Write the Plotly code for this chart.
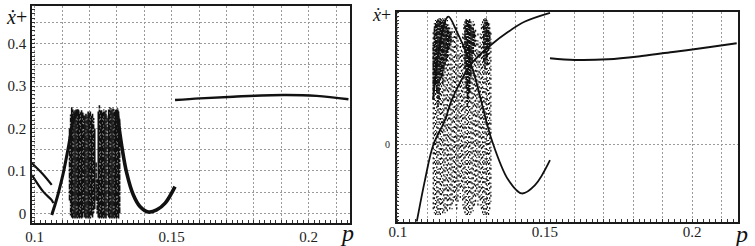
import plotly.graph_objects as go

# ---------------- data ----------------
# Left panel
L_START1_P = [0.0990, 0.1030, 0.1062]
L_START1_Y = [0.118, 0.092, 0.067]
L_START2_P = [0.0990, 0.1031, 0.1062, 0.1068]
L_START2_Y = [0.090, 0.051, 0.031, 0.024]
L_ARCH_P = [0.1062, 0.1074, 0.1086, 0.1104, 0.1123, 0.1141, 0.1159]
L_ARCH_Y = [-0.004, 0.020, 0.047, 0.094, 0.157, 0.220, 0.244]
L_BOWL_P = [0.1299, 0.1318, 0.1336, 0.1360, 0.1384, 0.1415, 0.1445, 0.1476, 0.1512]
L_BOWL_Y = [0.244, 0.157, 0.094, 0.043, 0.016, 0.003, 0.008, 0.024, 0.063]
L_HIGH_P = [0.1512, 0.1603, 0.1725, 0.1907, 0.2029, 0.2145]
L_HIGH_Y = [0.267, 0.271, 0.275, 0.279, 0.277, 0.269]

L_CHAOS_P = [0.1127, 0.1131, 0.1135, 0.1139, 0.1143, 0.1147, 0.1151, 0.1155, 0.1159,
             0.1163, 0.1167, 0.1171, 0.1175, 0.1179, 0.1183, 0.1187, 0.1191, 0.1195,
             0.1199, 0.1203, 0.1207, 0.1211, 0.1215, 0.1219, 0.1224, 0.1228, 0.1232,
             0.1236, 0.1240, 0.1244, 0.1248, 0.1252, 0.1256, 0.1260, 0.1264, 0.1270,
             0.1274, 0.1278, 0.1282, 0.1286, 0.1290, 0.1294, 0.1298, 0.1302, 0.1306,
             0.1310]
L_CHAOS_LO = [0.030, -0.005, -0.010, -0.012, -0.010, -0.012, -0.010, -0.012, -0.010,
              -0.012, -0.010, -0.012, -0.010, 0.000, -0.010, -0.012, -0.010, -0.012,
              -0.010, -0.012, -0.005, -0.010, 0.000, 0.010, 0.030, 0.000, -0.010,
              -0.012, -0.010, -0.012, -0.010, -0.012, -0.010, -0.012, -0.005, -0.010,
              -0.012, -0.010, -0.012, -0.010, -0.012, -0.010, -0.012, -0.010, -0.012,
              0.000]
L_CHAOS_HI = [0.200, 0.235, 0.250, 0.245, 0.240, 0.243, 0.245, 0.240, 0.245,
              0.240, 0.238, 0.243, 0.240, 0.235, 0.230, 0.235, 0.232, 0.240,
              0.236, 0.240, 0.230, 0.235, 0.225, 0.200, 0.120, 0.080, 0.240,
              0.255, 0.245, 0.243, 0.240, 0.245, 0.240, 0.243, 0.230, 0.245,
              0.250, 0.248, 0.245, 0.250, 0.245, 0.240, 0.245, 0.248, 0.240,
              0.225]

# Right panel
R_RISE_P = [0.1064, 0.1092, 0.1120, 0.1160, 0.1183, 0.1251, 0.1319, 0.1375, 0.1432, 0.1517]
R_RISE_Y = [-0.2026, -0.092, 0.000, 0.066, 0.119, 0.216, 0.266, 0.299, 0.326, 0.349]
R_FALL_P = [0.1120, 0.1143, 0.1171, 0.1200, 0.1251, 0.1319, 0.1375, 0.1421, 0.1466, 0.1517]
R_FALL_Y = [0.119, 0.270, 0.339, 0.300, 0.207, 0.013, -0.092, -0.128, -0.106, -0.040]
R_HIGH_P = [0.1517, 0.1602, 0.1715, 0.1829, 0.1942, 0.2056, 0.2152]
R_HIGH_Y = [0.229, 0.2245, 0.2263, 0.235, 0.2464, 0.258, 0.2686]

R_CHAOS_P = [0.1120, 0.1124, 0.1128, 0.1132, 0.1136, 0.1140, 0.1144, 0.1148, 0.1152,
             0.1156, 0.1160, 0.1164, 0.1168, 0.1172, 0.1176, 0.1180, 0.1184, 0.1188,
             0.1192, 0.1196, 0.1200, 0.1204, 0.1208, 0.1212, 0.1216, 0.1220, 0.1224,
             0.1228, 0.1232, 0.1236, 0.1240, 0.1244, 0.1248, 0.1252, 0.1256, 0.1260,
             0.1264, 0.1268, 0.1272, 0.1276, 0.1280, 0.1284, 0.1288, 0.1292, 0.1296,
             0.1300, 0.1304, 0.1308, 0.1312, 0.1316]
R_CHAOS_LO = [-0.170, -0.180, -0.185, -0.180, -0.185, -0.180, -0.185, -0.170, -0.180,
              -0.175, -0.180, -0.170, -0.175, -0.160, -0.170, -0.160, -0.170, -0.150,
              -0.140, -0.160, -0.170, -0.150, -0.120, -0.140, -0.110, -0.160, -0.170,
              -0.180, -0.185, -0.185, -0.180, -0.185, -0.180, -0.170, -0.175, -0.160,
              -0.150, -0.130, -0.160, -0.140, -0.160, -0.170, -0.180, -0.185, -0.180,
              -0.185, -0.180, -0.185, -0.170, -0.150]
R_CHAOS_HI = [0.300, 0.330, 0.335, 0.335, 0.334, 0.335, 0.335, 0.334, 0.335,
              0.334, 0.335, 0.330, 0.330, 0.320, 0.310, 0.300, 0.320, 0.300,
              0.310, 0.300, 0.320, 0.300, 0.250, 0.280, 0.260, 0.300, 0.320,
              0.330, 0.335, 0.335, 0.335, 0.334, 0.330, 0.320, 0.330, 0.320,
              0.310, 0.280, 0.300, 0.270, 0.300, 0.320, 0.330, 0.335, 0.335,
              0.334, 0.330, 0.325, 0.320, 0.300]
R_DENSE_LO = [0.12, 0.15, 0.16, 0.14, 0.10, 0.12, 0.17, 0.18, 0.16,
              0.20, 0.21, 0.22, 0.23, 0.25, 0.26, 0.27, None, None,
              None, None, None, None, None, None, None, None, None,
              0.20, 0.15, 0.10, 0.12, 0.14, 0.18, 0.22, 0.24, 0.26,
              None, None, None, None, None, None, None, 0.22, 0.20,
              0.23, 0.21, 0.25, 0.26, None]
R_DENSE_HI = [0.27, 0.31, 0.32, 0.33, 0.33, 0.33, 0.33, 0.33, 0.33,
              0.33, 0.33, 0.32, 0.31, 0.31, 0.30, 0.30, None, None,
              None, None, None, None, None, None, None, None, None,
              0.32, 0.33, 0.33, 0.33, 0.33, 0.32, 0.31, 0.31, 0.30,
              None, None, None, None, None, None, None, 0.32, 0.33,
              0.33, 0.33, 0.32, 0.30, None]

# axes ticks / grid
L_X_GRID = [0.10, 0.11, 0.12, 0.13, 0.14, 0.15, 0.16, 0.17, 0.18, 0.19, 0.20, 0.21]
L_X_TEXT = ['0.1', '', '', '', '', '0.15', '', '', '', '', '0.2', '']
L_Y_GRID = [0.0, 0.05, 0.1, 0.15, 0.2, 0.25, 0.3, 0.35, 0.4, 0.45]
L_Y_TEXT = ['0', '', '0.1', '', '0.2', '', '0.3', '', '0.4', '']
R_Y_GRID = [0.0]
R_Y_TEXT = ['0']


def segments(ps, los, his, pick):
    xs, ys = [], []
    for i, (p, lo, hi) in enumerate(zip(ps, los, his)):
        if lo is None or not pick(i):
            continue
        xs += [p, p, None]
        ys += [lo, hi, None]
    return xs, ys


fig = go.Figure()
BLACK = '#111111'

# ---- left panel ----
dashes_l = ['6px,1px,3px,1px', '2px,1px,5px,1px', 'solid']
for k, d in enumerate(dashes_l):
    xs, ys = segments(L_CHAOS_P, L_CHAOS_LO, L_CHAOS_HI, lambda i, k=k: i % 3 == k)
    fig.add_trace(go.Scatter(x=xs, y=ys, mode='lines', xaxis='x', yaxis='y',
                             line=dict(color=BLACK, width=1.6, dash=d),
                             showlegend=False, hoverinfo='skip'))
for px_, py_, w in [(L_START1_P, L_START1_Y, 2.2), (L_START2_P, L_START2_Y, 2.2),
                    (L_ARCH_P, L_ARCH_Y, 3.0), (L_BOWL_P, L_BOWL_Y, 3.6),
                    (L_HIGH_P, L_HIGH_Y, 2.4)]:
    fig.add_trace(go.Scatter(x=px_, y=py_, mode='lines', xaxis='x', yaxis='y',
                             line=dict(color=BLACK, width=w, shape='spline'),
                             showlegend=False, hoverinfo='skip'))

# ---- right panel ----
dashes_r = ['2px,3px', '1px,4px,2px,2px', '2px,2px,1px,5px']
for k, d in enumerate(dashes_r):
    xs, ys = segments(R_CHAOS_P, R_CHAOS_LO, R_CHAOS_HI, lambda i, k=k: i % 3 == k)
    fig.add_trace(go.Scatter(x=xs, y=ys, mode='lines', xaxis='x2', yaxis='y2',
                             line=dict(color=BLACK, width=1.3, dash=d),
                             showlegend=False, hoverinfo='skip'))
xs, ys = segments(R_CHAOS_P, R_DENSE_LO, R_DENSE_HI, lambda i: True)
fig.add_trace(go.Scatter(x=xs, y=ys, mode='lines', xaxis='x2', yaxis='y2',
                         line=dict(color=BLACK, width=1.6, dash='4px,1px,2px,1px'),
                         showlegend=False, hoverinfo='skip'))
for px_, py_, w in [(R_RISE_P, R_RISE_Y, 1.8), (R_FALL_P, R_FALL_Y, 1.8),
                    (R_HIGH_P, R_HIGH_Y, 2.0)]:
    fig.add_trace(go.Scatter(x=px_, y=py_, mode='lines', xaxis='x2', yaxis='y2',
                             line=dict(color=BLACK, width=w, shape='spline'),
                             showlegend=False, hoverinfo='skip'))

SERIF = "'Liberation Serif', 'Times New Roman', Times, 'DejaVu Serif', serif"
common = dict(showline=True, mirror=True, linecolor='#1a1a1a', linewidth=1.6,
              showgrid=True, gridcolor='#9a9a9a', gridwidth=1, griddash='2px,2px',
              zeroline=False, ticks='', tickmode='array',
              tickfont=dict(family=SERIF, size=15, color='#222'))

fig.update_layout(
    width=755, height=246, autosize=False,
    font=dict(family=SERIF),
    margin=dict(l=0, r=0, t=0, b=0, autoexpand=False),
    paper_bgcolor='white', plot_bgcolor='white',
    xaxis=dict(common, domain=[0.0424, 0.4636], range=[0.09901, 0.21507],
               tickvals=L_X_GRID, ticktext=L_X_TEXT, anchor='y',
               ticklabelstandoff=-1,
               minor=dict(ticks='inside', dtick=0.002, tick0=0.1, ticklen=3,
                          tickcolor='#333', showgrid=False)),
    yaxis=dict(common, domain=[0.0923, 0.9776], range=[-0.0236, 0.49],
               tickvals=L_Y_GRID, ticktext=L_Y_TEXT, anchor='x',
               ticklabelstandoff=1,
               minor=dict(ticks='inside', dtick=0.01, tick0=0, ticklen=3,
                          tickcolor='#333', showgrid=False)),
    xaxis2=dict(common, domain=[0.5254, 0.9779], range=[0.09956, 0.21575],
                tickvals=L_X_GRID, ticktext=L_X_TEXT, anchor='y2',
                ticklabelstandoff=-4,
                minor=dict(ticks='inside', dtick=0.002, tick0=0.1, ticklen=3,
                           tickcolor='#333', showgrid=False)),
    yaxis2=dict(common, domain=[0.0988, 0.9524], range=[-0.2026, 0.352],
                tickvals=R_Y_GRID, ticktext=R_Y_TEXT, anchor='x2',
                ticklabelstandoff=3,
                tickfont=dict(family=SERIF, size=10, color='#222'),
                minor=dict(ticks='inside', dtick=0.01, tick0=0, ticklen=3,
                           tickcolor='#333', showgrid=False)),
    annotations=[
        dict(text='<i>ẋ</i>+', xref='paper', yref='paper', x=4 / 755, y=1 - 4 / 246,
             xanchor='left', yanchor='top', showarrow=False,
             font=dict(family=SERIF, size=20, color='#111')),
        dict(text='<i>ẋ</i>+', xref='paper', yref='paper', x=370 / 755, y=1 - 3 / 246,
             xanchor='left', yanchor='top', showarrow=False,
             font=dict(family=SERIF, size=18, color='#111')),
        dict(text='<i>p</i>', xref='paper', yref='paper', x=347 / 755, y=1 - 233 / 246,
             xanchor='center', yanchor='middle', showarrow=False,
             font=dict(family=SERIF, size=24, color='#111')),
        dict(text='<i>p</i>', xref='paper', yref='paper', x=741 / 755, y=1 - 234 / 246,
             xanchor='center', yanchor='middle', showarrow=False,
             font=dict(family=SERIF, size=24, color='#111')),
    ],
)

fig.write_html('out.html',
               config={'displayModeBar': False, 'responsive': False},
               post_script="document.body.style.margin='0';document.body.style.overflow='hidden';")
